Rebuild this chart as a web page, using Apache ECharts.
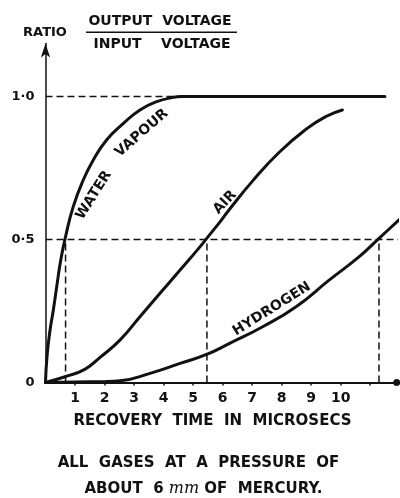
<!DOCTYPE html>
<html>
<head>
<meta charset="utf-8">
<script src="https://cdn.jsdelivr.net/npm/echarts@6/dist/echarts.min.js"></script>
<style>
  html, body { margin: 0; padding: 0; background: #ffffff; }
  #chart { width: 400px; height: 498px; }
</style>
</head>
<body>
<div id="chart"></div>
<script>
// Tick labels
const xTickLabels = ['1', '2', '3', '4', '5', '6', '7', '8', '9', '10'];
const yTickValues = [0, 0.5, 1.0];
const yTickLabels = ['0', '0·5', '1·0'];

// Recovery curves: [time in microseconds, output/input voltage ratio]
const waterVapour = [
  [0, 0], [0.05, 0.09], [0.15, 0.18], [0.26, 0.25], [0.38, 0.335], [0.52, 0.43],
  [0.68, 0.51], [0.94, 0.615], [1.28, 0.708], [1.62, 0.778], [2.07, 0.848],
  [2.64, 0.906], [3.2, 0.953], [3.77, 0.982], [4.33, 0.997], [4.6, 1.0],
  [7.0, 1.0], [11.5, 1.0]
];
const air = [
  [0, 0], [0.66, 0.02], [1.33, 0.046], [1.85, 0.088], [2.53, 0.149], [3.2, 0.23],
  [3.88, 0.312], [4.56, 0.393], [5.24, 0.475], [5.47, 0.505], [5.9, 0.56],
  [6.23, 0.605], [7.02, 0.705], [7.92, 0.805], [8.82, 0.885], [9.5, 0.93],
  [10.06, 0.953]
];
const hydrogen = [
  [0, 0], [1.0, 0.002], [2.0, 0.003], [2.53, 0.006], [3.54, 0.032], [4.56, 0.067],
  [5.46, 0.098], [6.24, 0.137], [7.36, 0.195], [8.49, 0.265], [9.61, 0.358],
  [10.63, 0.44], [11.3, 0.504], [11.86, 0.557], [12.0, 0.57]
];

// Times at which each gas recovers half of the output voltage
const halfRecoveryTimes = [0.68, 5.47, 11.3];
const halfRatio = 0.5;
const fullRatio = 1.0;
const fullRecoveryTime = 4.6;

const xMax = 11.9;
const yMax = 1.185;

const FONT = 'DejaVu Sans';
const INK = '#111111';

const chart = echarts.init(document.getElementById('chart'), null, { renderer: 'canvas' });

const dashed = { color: INK, width: 1.5, type: [7, 4] };

// Guide lines built from the half- and full-recovery readings
const guideSeries = [
  {
    type: 'line', data: [[0, halfRatio], [12.5, halfRatio]],
    symbol: 'none', lineStyle: dashed, z: 2, silent: true
  },
  {
    type: 'line', data: [[0, fullRatio], [fullRecoveryTime, fullRatio]],
    symbol: 'none', lineStyle: dashed, z: 2, silent: true
  }
].concat(halfRecoveryTimes.map(t => ({
  type: 'line', data: [[t, 0], [t, halfRatio]],
  symbol: 'none', lineStyle: dashed, z: 2, silent: true
})));

const curve = (data) => ({
  type: 'line', data, symbol: 'none', smooth: 0.5,
  lineStyle: { color: INK, width: 3, cap: 'round', join: 'round' }, z: 5, silent: true
});

// Plot area: 0 on the time axis at x = 45.5 px, ratio 0 on the baseline 115.5 px above the bottom
const plotBottom = 115.5;
const plotHeight = 286 * yMax;

chart.setOption({
  animation: false,
  backgroundColor: '#ffffff',
  grid: { left: 45.5, right: 3.3, top: 498 - plotBottom - plotHeight, bottom: plotBottom, containLabel: false },
  xAxis: {
    type: 'value', min: 0, max: xMax, interval: 1,
    axisLine: {
      show: true, lineStyle: { color: INK, width: 2 },
      symbol: ['none', 'circle'], symbolSize: [7, 7]
    },
    axisTick: { show: true, length: 3, lineStyle: { color: INK, width: 1.5 } },
    splitLine: { show: false },
    axisLabel: {
      color: INK, fontFamily: FONT, fontWeight: 'bold', fontSize: 14, margin: 9,
      showMaxLabel: false, showMinLabel: false,
      formatter: (v) => {
        const i = Math.round(v) - 1;
        return (Math.abs(v - Math.round(v)) < 1e-6 && i >= 0 && i < xTickLabels.length) ? xTickLabels[i] : '';
      }
    }
  },
  yAxis: {
    type: 'value', min: 0, max: yMax, interval: 0.5,
    axisLine: {
      show: true, lineStyle: { color: INK, width: 1.5 },
      symbol: ['none', 'arrow'], symbolSize: [7, 14]
    },
    axisTick: { show: false },
    splitLine: { show: false },
    axisLabel: {
      color: INK, fontFamily: FONT, fontWeight: 'bold', fontSize: 13, margin: 11,
      showMaxLabel: false,
      formatter: (v) => {
        const i = yTickValues.findIndex(t => Math.abs(t - v) < 1e-6);
        return i >= 0 ? yTickLabels[i] : '';
      }
    }
  },
  series: guideSeries.concat([curve(waterVapour), curve(air), curve(hydrogen)])
});

// Curve names and titles, placed from data coordinates where they annotate a curve
const curveLabels = [
  { text: 'WATER', at: [1.64, 0.655], angle: 58 },
  { text: 'VAPOUR', at: [3.26, 0.872], angle: 41 },
  { text: 'AIR', at: [6.08, 0.63], angle: 47 },
  { text: 'HYDROGEN', at: [7.67, 0.257], angle: 32 }
];

const graphics = curveLabels.map(l => {
  const p = chart.convertToPixel({ gridIndex: 0 }, l.at);
  return {
    type: 'text', x: p[0], y: p[1], rotation: l.angle * Math.PI / 180, z: 10,
    style: {
      text: l.text, fill: INK, font: `bold 14px "${FONT}"`,
      align: 'center', verticalAlign: 'middle'
    }
  };
});

graphics.push(
  { type: 'text', x: 45, y: 33, style: { text: 'RATIO', fill: INK, font: `bold 13px "${FONT}"`, align: 'center', verticalAlign: 'middle' } },
  { type: 'text', x: 160, y: 21.5, style: { text: 'OUTPUT  VOLTAGE', fill: INK, font: `bold 14px "${FONT}"`, align: 'center', verticalAlign: 'middle' } },
  { type: 'line', shape: { x1: 86, y1: 32.3, x2: 237, y2: 32.3 }, style: { stroke: INK, lineWidth: 1.5 } },
  { type: 'text', x: 162, y: 44, style: { text: 'INPUT    VOLTAGE', fill: INK, font: `bold 14px "${FONT}"`, align: 'center', verticalAlign: 'middle' } },
  { type: 'text', x: 212.5, y: 421, style: { text: 'RECOVERY  TIME  IN  MICROSECS', fill: INK, font: `bold 15px "${FONT}"`, align: 'center', verticalAlign: 'middle' } },
  { type: 'text', x: 198.5, y: 463.5, style: { text: 'ALL  GASES  AT  A  PRESSURE  OF', fill: INK, font: `bold 15px "${FONT}"`, align: 'center', verticalAlign: 'middle' } },
  {
    type: 'text', x: 203.5, y: 489,
    style: {
      text: 'ABOUT  6 {m|mm} OF  MERCURY.', fill: INK, font: `bold 15px "${FONT}"`,
      align: 'center', verticalAlign: 'middle',
      rich: { m: { fontFamily: 'DejaVu Serif', fontStyle: 'italic', fontWeight: 'normal', fontSize: 16, fill: INK } }
    }
  }
);

chart.setOption({ graphic: graphics });
</script>
</body>
</html>
